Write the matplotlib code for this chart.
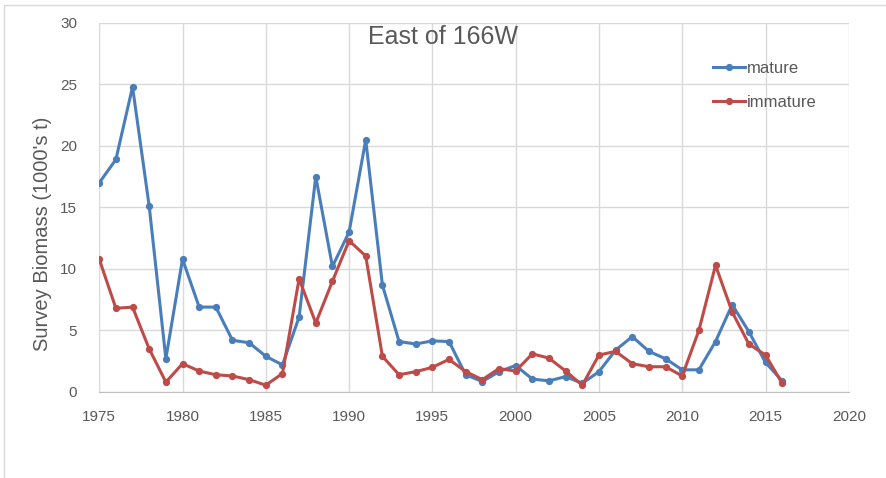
import numpy as np
import matplotlib
matplotlib.use("Agg")
import matplotlib.pyplot as plt

plt.rcParams['font.family'] = ['Liberation Sans', 'DejaVu Sans']

# --- data ---
years = np.arange(1975, 2017)
mature = [17.0, 18.9, 24.8, 15.1, 2.7, 10.8, 6.9, 6.9, 4.2, 4.0,
          2.9, 2.2, 6.1, 17.5, 10.2, 13.0, 20.5, 8.7, 4.1, 3.9,
          4.15, 4.1, 1.4, 0.85, 1.65, 2.15, 1.05, 0.9, 1.25, 0.7,
          1.65, 3.4, 4.5, 3.3, 2.7, 1.8, 1.8, 4.1, 7.1, 4.9,
          2.4, 0.9]
immature = [10.8, 6.8, 6.9, 3.5, 0.8, 2.3, 1.7, 1.4, 1.3, 1.0,
            0.55, 1.5, 9.2, 5.6, 9.0, 12.3, 11.05, 2.9, 1.4, 1.65,
            2.0, 2.65, 1.65, 1.0, 1.9, 1.7, 3.1, 2.75, 1.7, 0.55,
            3.0, 3.3, 2.3, 2.05, 2.05, 1.3, 5.0, 10.3, 6.5, 3.9,
            3.0, 0.7]

blue = '#4A7EBB'
red = '#BE4B48'

fig = plt.figure(figsize=(8.86, 4.78), dpi=100)
ax = fig.add_axes([0.112, 0.180, 0.846, 0.772])

ax.plot(years, mature, color=blue, lw=2.2, marker='o', ms=4.2, label='mature')
ax.plot(years, immature, color=red, lw=2.2, marker='o', ms=4.2, label='immature')

ax.set_xlim(1975, 2020)
ax.set_ylim(0, 30)
ax.set_xticks(np.arange(1975, 2021, 5))
ax.set_yticks(np.arange(0, 31, 5))
ax.grid(True, color='#D9D9D9', lw=1)
ax.set_axisbelow(True)
for s in ['top', 'right', 'left']:
    ax.spines[s].set_visible(False)
ax.spines['bottom'].set_color('#BFBFBF')
ax.tick_params(length=0, labelsize=11, colors='#595959')
ax.tick_params(axis='y', pad=16)
ax.tick_params(axis='x', pad=13)

ax.set_ylabel("Survey Biomass (1000's t)", fontsize=14.5, color='#595959')
ax.yaxis.set_label_coords(-0.063, 0.428)
# title is centred on the whole chart area, not the plot area
fig.text(0.5, 1 - 37 / 478, 'East of 166W', ha='center', va='center',
         fontsize=18, color='#595959')

leg = ax.legend(loc='upper left', bbox_to_anchor=(0.8187, 0.897), frameon=False,
                fontsize=12, handlelength=1.9, labelspacing=1.15, handletextpad=0.15,
                borderpad=0, borderaxespad=0, labelcolor='#595959')

# outer chart border
fig.patches.append(plt.Rectangle((0.004, -0.01), 1.2, 1.0, transform=fig.transFigure,
                                 fill=False, edgecolor='#D9D9D9', lw=1))

fig.savefig('out.png', dpi=100)
